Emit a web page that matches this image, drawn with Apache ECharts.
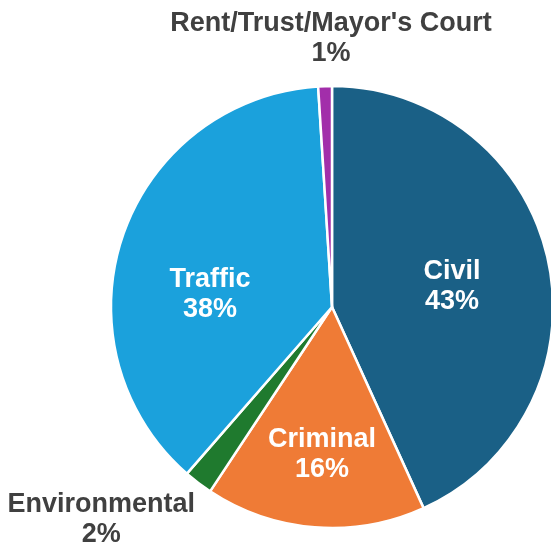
<!DOCTYPE html>
<html>
<head>
<meta charset="utf-8">
<script src="https://cdn.jsdelivr.net/npm/echarts@6/dist/echarts.min.js"></script>
<style>
html,body{margin:0;padding:0;background:#fff;}
#chart{width:551px;height:548px;}
</style>
</head>
<body>
<div id="chart"></div>
<script>
const categories = ['Civil', 'Criminal', 'Environmental', 'Traffic', "Rent/Trust/Mayor's Court"];
const values = [43.2, 16.1, 2.1, 37.6, 1.0];
const colors = ['#1a6086', '#ef7b36', '#1f7a2e', '#1ba1dc', '#a22eaa'];
const labelColors = ['#ffffff', '#ffffff', '#404040', '#ffffff', '#404040'];
const labelShift = [[9, 3.5], [-1, 34], [-162, 122], [-14.5, 23.5], [2.5, -155]];

const chart = echarts.init(document.getElementById('chart'), null, {renderer: 'canvas'});
chart.setOption({
  backgroundColor: '#ffffff',
  animation: false,
  series: [{
    type: 'pie',
    center: [332, 307],
    radius: [0, 221],
    startAngle: 90,
    clockwise: true,
    avoidLabelOverlap: false,
    percentPrecision: 0,
    itemStyle: {borderColor: '#ffffff', borderWidth: 2.5},
    label: {
      show: true,
      position: 'inside',
      formatter: '{b}\n{d}%',
      fontFamily: 'Liberation Sans, Arial, sans-serif',
      fontWeight: 'bold',
      fontSize: 27,
      lineHeight: 30,
      align: 'center'
    },
    labelLine: {show: false},
    labelLayout: function (p) {
      const s = labelShift[p.dataIndex];
      return {dx: s[0], dy: s[1]};
    },
    emphasis: {disabled: true},
    data: categories.map((c, i) => ({
      name: c,
      value: values[i],
      itemStyle: {color: colors[i]},
      label: {color: labelColors[i]}
    }))
  }]
});
</script>
</body>
</html>
